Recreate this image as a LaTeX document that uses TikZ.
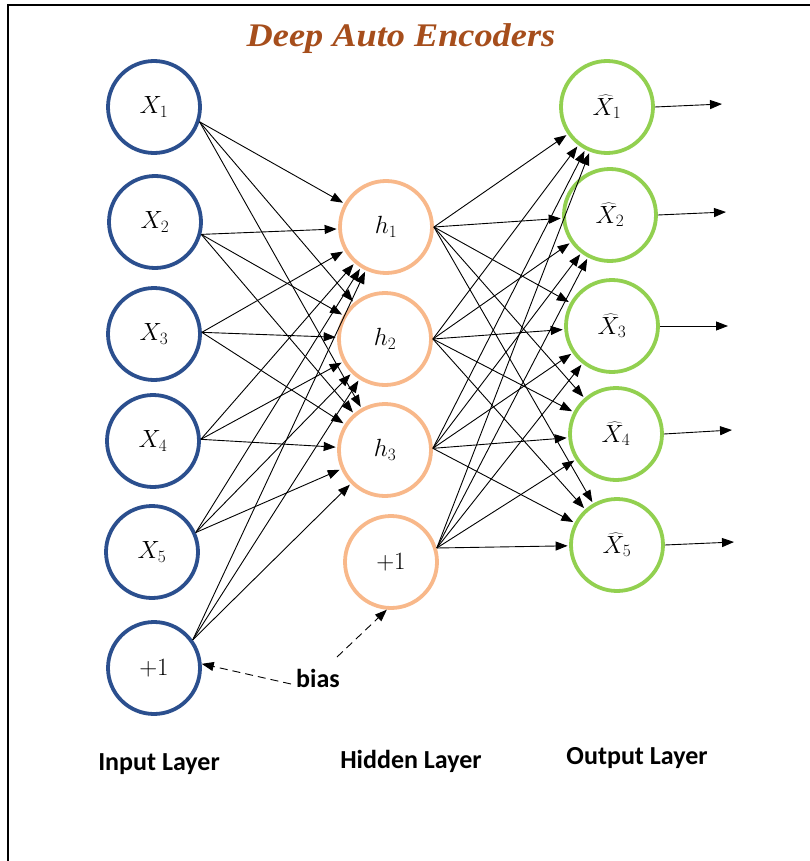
\documentclass[tikz,border=0pt]{standalone}
\usepackage{fontspec}
\setmainfont{Carlito}
\newfontfamily\titlefont[FakeStretch=1.1]{Liberation Serif}
\usetikzlibrary{arrows.meta}
\definecolor{inblue}{HTML}{2B4F8E}
\definecolor{hidorange}{HTML}{F8B88A}
\definecolor{outgreen}{HTML}{92D050}
\definecolor{titlebrown}{HTML}{A64E1C}
\begin{document}
\begin{tikzpicture}[x=1pt,y=-1pt,
  neuron/.style={circle,minimum size=92pt,inner sep=0pt,line width=3.8pt,
    font=\fontsize{25}{29}\selectfont},
  innode/.style={neuron,draw=inblue},
  hidnode/.style={neuron,draw=hidorange},
  outnode/.style={neuron,draw=outgreen},
  conn/.style={line width=0.9pt,-{Triangle[length=12pt,width=9pt]},shorten >=1.5pt},
  biasarrow/.style={line width=0.9pt,dash pattern=on 8pt off 5pt,-{Triangle[length=12pt,width=9pt]}},
  lbl/.style={font=\bfseries\fontsize{26}{30}\selectfont}]
\useasboundingbox (0,0) rectangle (810,861);
\begin{scope}
\clip (0,0) rectangle (810,861);
\draw[line width=2pt] (8,5) rectangle (830,880);
\end{scope}
\node[font=\titlefont\bfseries\itshape\fontsize{33}{37}\selectfont,text=titlebrown] (title) at (401,39) {Deep Auto Encoders};
% input layer
\node[innode] (in1) at (154,107) {$X_1$};
\node[innode] (in2) at (155,222) {$X_2$};
\node[innode] (in3) at (154,334) {$X_3$};
\node[innode] (in4) at (153,441) {$X_4$};
\node[innode] (in5) at (152,552) {$X_5$};
\node[innode] (in6) at (154,668) {$+1$};
% hidden layer
\node[hidnode] (h1) at (386,227) {$h_1$};
\node[hidnode] (h2) at (385,339) {$h_2$};
\node[hidnode] (h3) at (385,450) {$h_3$};
\node[hidnode] (hb) at (391,562) {$+1$};
% output layer
\node[outnode] (o1) at (607,107) {$\widehat{X}_1$};
\node[outnode] (o2) at (610,215) {$\widehat{X}_2$};
\node[outnode] (o3) at (612,326) {$\widehat{X}_3$};
\node[outnode] (o4) at (616,434) {$\widehat{X}_4$};
\node[outnode] (o5) at (617,545) {$\widehat{X}_5$};
% input -> hidden
\foreach \s/\a in {in1/-18,in2/-15,in3/2,in4/2,in5/24,in6/36}{
  \foreach \t in {h1,h2,h3}{
    \draw[conn] (\s.\a) -- (\t);
  }
}
% hidden -> output
\foreach \s/\a in {h1/0,h2/0,h3/2,hb/17}{
  \foreach \t in {o1,o2,o3,o4,o5}{
    \draw[conn] (\s.\a) -- (\t);
  }
}
% output arrows
\coordinate (e1) at (722,104);
\coordinate (e2) at (726,212);
\coordinate (e3) at (728,326);
\coordinate (e4) at (732,430);
\coordinate (e5) at (734,542);
\foreach \i in {1,...,5}{
  \draw[line width=0.9pt,-{Triangle[length=12pt,width=9pt]}] (o\i.east) -- (e\i);
}
% bias
\node[lbl] (bias) at (318,678) {bias};
\coordinate (bs1) at (291,684);
\coordinate (bs2) at (337,657);
\draw[biasarrow] (bs1) -- (in6.5);
\draw[biasarrow] (bs2) -- (hb.-95);
% layer labels
\node[lbl] (linput) at (159,764) {Input Layer};
\node[lbl] (lhidden) at (411,761) {Hidden Layer};
\node[lbl] (loutput) at (637,758) {Output Layer};
\end{tikzpicture}
\end{document}
